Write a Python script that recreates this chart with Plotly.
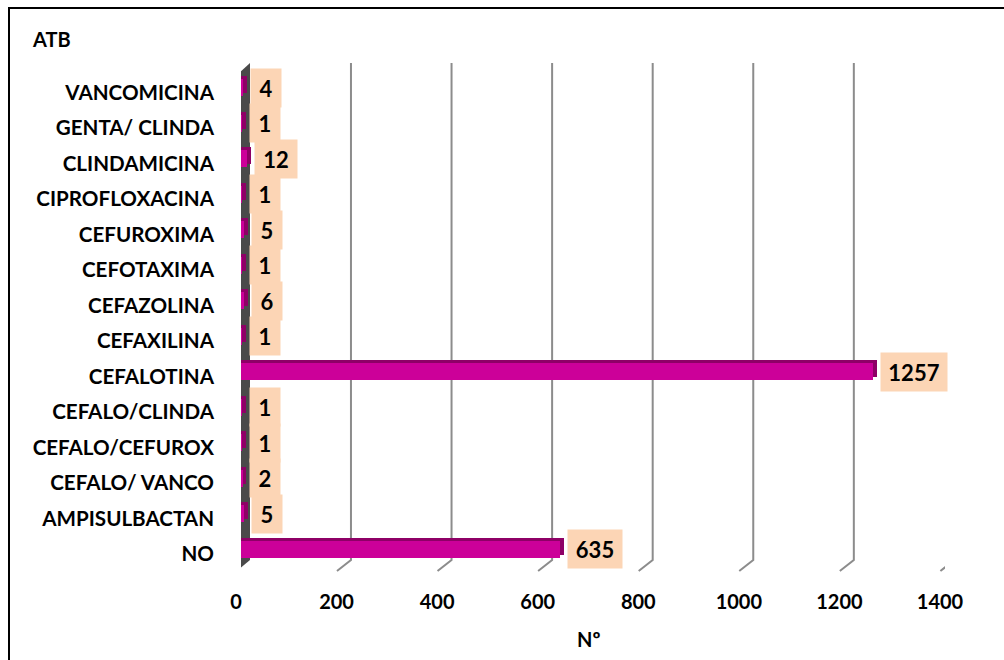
import plotly.graph_objects as go

# Antibiotic usage counts (bottom to top as drawn)
categories = ["NO", "AMPISULBACTAN", "CEFALO/ VANCO", "CEFALO/CEFUROX", "CEFALO/CLINDA",
              "CEFALOTINA", "CEFAXILINA", "CEFAZOLINA", "CEFOTAXIMA", "CEFUROXIMA",
              "CIPROFLOXACINA", "CLINDAMICINA", "GENTA/ CLINDA", "VANCOMICINA"]
counts = [635, 5, 2, 1, 1, 1257, 1, 6, 1, 5, 1, 12, 1, 4]
x_ticks = [0, 200, 400, 600, 800, 1000, 1200, 1400]

W, H = 1004, 660
L, R, T, B = 241, 945, 70, 567          # plot area in pixels
X_MAX = 1400
PX_PER_UNIT = (R - L) / X_MAX

FONT = "Lato"
BAR = "#CC0099"
BAR_DEPTH = "#8E0066"
LABEL_BG = "#FCD5B5"
GRID = "#8C8C8C"

# pseudo-3D depth of the bars (pixels -> data units)
depth_px_x, depth_px_y = 4, 3
slot_px = (B - T) / len(categories)
bar_w = 0.47
depth_units = depth_px_x / PX_PER_UNIT
depth_off = depth_px_y / slot_px

fig = go.Figure()

# back/top face of each bar
fig.add_trace(go.Bar(
    y=categories, x=[v + depth_units for v in counts], orientation="h",
    width=bar_w, offset=-bar_w / 2 + depth_off,
    marker=dict(color=BAR_DEPTH, line=dict(width=0)), hoverinfo="skip",
))
# front face
fig.add_trace(go.Bar(
    y=categories, x=counts, orientation="h",
    width=bar_w, offset=-bar_w / 2,
    marker=dict(color=BAR, line=dict(width=0)),
))

shapes = []
# back wall grid lines with their slanted floor feet
back_dx, foot_dx, foot_dy = 9.4, -4.6, -4
top_px = B - 63
bot_px = B - 560
for t in x_ticks[1:]:
    shapes.append(dict(type="path", xref="x", yref="paper", xsizemode="pixel", ysizemode="pixel",
                       xanchor=t, yanchor=0,
                       path=f"M{back_dx},{top_px} L{back_dx},{bot_px} L{foot_dx},{foot_dy}",
                       line=dict(color=GRID, width=2), layer="below"))

# left side wall
wall = f"M-4,{B - 75} L9,{B - 63} L9,{B - 560} L-4,{B - 571} Z"
shapes.append(dict(type="path", xref="x", yref="paper", xsizemode="pixel", ysizemode="pixel",
                   xanchor=0, yanchor=0, path=wall,
                   fillcolor="#4A4A4A", line=dict(width=0), layer="below"))
shapes.append(dict(type="path", xref="x", yref="paper", xsizemode="pixel", ysizemode="pixel",
                   xanchor=0, yanchor=0,
                   path=f"M-4,{B - 75} L0,{B - 71} L0,{B - 567} L-4,{B - 571} Z",
                   fillcolor="#8A8A8A", line=dict(width=0), layer="below"))


def px_x(p):
    return (p - L) / (R - L)


def px_y(p):
    return (B - p) / (B - T)


# outer frame
shapes.append(dict(type="rect", xref="paper", yref="paper",
                   x0=px_x(9), x1=px_x(1015), y0=px_y(675), y1=px_y(8),
                   line=dict(color="black", width=2), layer="below"))

annotations = []
for c, v in zip(categories, counts):
    n = len(str(v))
    annotations.append(dict(
        x=v, y=c, xref="x", yref="y", xanchor="left", yanchor="middle",
        xshift=7, text=str(v), showarrow=False,
        font=dict(family=FONT, size=22, color="black", weight="bold"),
        bgcolor=LABEL_BG, borderpad=5, width=12 * n + 8, height=28, align="center",
    ))

# axis title placed as text under the axis
annotations.append(dict(
    x=px_x(588), y=px_y(639), xref="paper", yref="paper", xanchor="center", yanchor="middle",
    text="Nº", showarrow=False, font=dict(family=FONT, size=20, color="black", weight="bold"),
))

fig.update_layout(
    width=W, height=H,
    margin=dict(l=L, r=W - R, t=T, b=H - B, pad=0),
    paper_bgcolor="white", plot_bgcolor="rgba(0,0,0,0)",
    barmode="overlay", showlegend=False, bargap=0,
    title=dict(text="ATB", x=33 / W, xanchor="left", xref="container",
               y=1 - 40 / H, yanchor="middle", yref="container",
               font=dict(family=FONT, size=20, color="black", weight="bold")),
    shapes=shapes, annotations=annotations,
    font=dict(family=FONT, color="black"),
)
fig.update_xaxes(range=[0, X_MAX], tickvals=x_ticks, showgrid=False, zeroline=False,
                 showline=False, ticks="", ticklabelstandoff=21, ticklabelshift=-5,
                 tickfont=dict(family=FONT, size=20, color="black", weight="bold"))
fig.update_yaxes(type="category", categoryorder="array", categoryarray=categories,
                 range=[-0.5, len(categories) - 0.5], showgrid=False, zeroline=False,
                 showline=False, ticks="", ticklabelstandoff=26, ticklabelshift=5,
                 tickfont=dict(family=FONT, size=20.6, color="black", weight="bold"))

fig.write_html("out.html")
